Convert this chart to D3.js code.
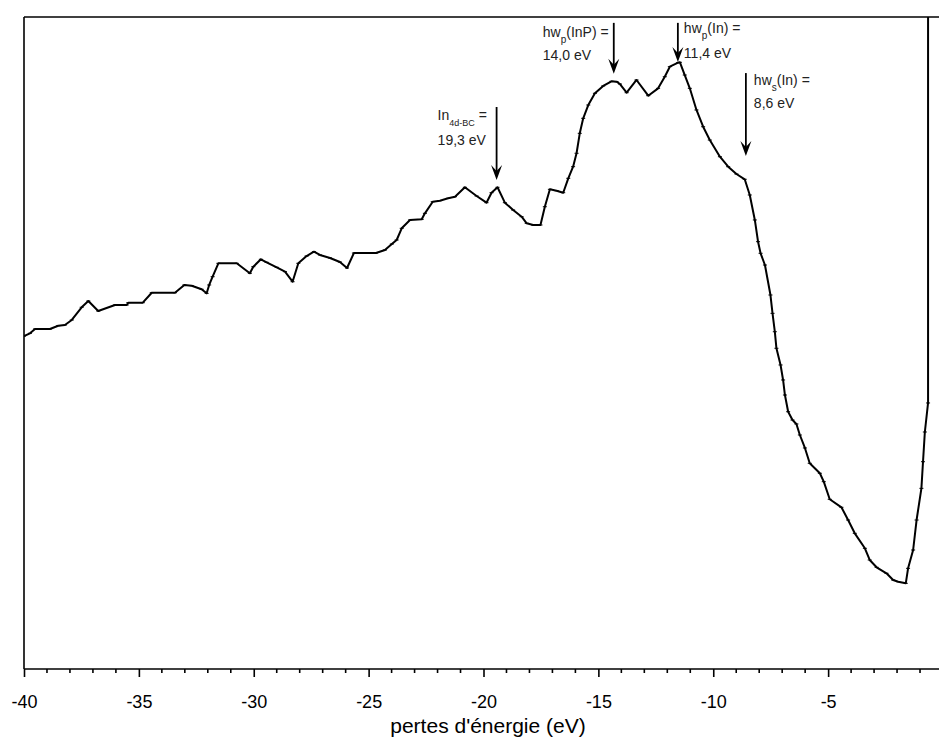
<!DOCTYPE html>
<html>
<head>
<meta charset="utf-8">
<script src="https://cdn.jsdelivr.net/npm/d3@7"></script>
<style>
  body { margin: 0; background: #fff; }
  svg { display: block; font-family: "Liberation Sans", Arial, sans-serif; }
  .axis-line { stroke: #000; stroke-width: 1.6; fill: none; }
  .curve { stroke: #000; stroke-width: 2; fill: none; stroke-linejoin: round; }
  .note { fill: #222; font-size: 14px; }
</style>
</head>
<body>
<svg id="chart" width="939" height="738"></svg>
<script>
// ---------------- DATA ----------------
// energy loss (eV) and intensity (arbitrary units)
const energy = [
  -40.00, -39.74, -39.52, -38.87, -38.51, -38.22, -37.92, -37.49, -37.20, -36.77,
  -36.04, -35.53, -35.46, -34.83, -34.44, -33.43, -33.02, -32.70, -32.27, -32.05,
  -31.94, -31.79, -31.54, -30.74, -30.17, -30.02, -29.69, -29.44, -29.00, -28.64,
  -28.31, -28.06, -27.70, -27.38, -27.12, -26.68, -26.25, -25.94, -25.64, -24.68,
  -24.29, -23.99, -23.78, -23.56, -23.20, -22.69, -22.55, -22.21, -21.90, -21.54,
  -21.24, -20.81, -20.30, -19.87, -19.65, -19.39, -19.07, -18.71, -18.34, -18.12,
  -17.84, -17.52, -17.33, -17.11, -16.82, -16.53, -16.31, -16.10, -15.95, -15.81,
  -15.66, -15.44, -15.15, -14.79, -14.43, -14.21, -14.06, -13.77, -13.34, -12.83,
  -12.40, -12.11, -11.89, -11.53, -11.45, -11.24, -11.02, -10.73, -10.44, -10.15,
  -9.71, -9.35, -8.99, -8.63, -8.41, -8.19, -8.05, -7.94, -7.75, -7.51,
  -7.42, -7.32, -7.25, -7.07, -6.96, -6.88, -6.74, -6.55, -6.38, -6.23,
  -6.01, -5.80, -5.36, -5.19, -4.93, -4.42, -4.13, -3.84, -3.40, -3.19,
  -2.89, -2.46, -2.17, -1.95, -1.62, -1.52, -1.30, -1.15, -0.94, -0.87,
  -0.79, -0.65, -0.65
];
const intensity = [
  51.07, 51.49, 52.15, 52.15, 52.65, 52.76, 53.53, 55.48, 56.44, 54.91,
  55.83, 55.83, 56.18, 56.18, 57.71, 57.71, 58.90, 58.79, 58.24, 57.62,
  58.90, 60.17, 62.22, 62.22, 60.69, 61.70, 62.84, 62.38, 61.61, 60.94,
  59.40, 62.22, 63.34, 64.00, 63.50, 63.04, 62.42, 61.50, 63.80, 63.80,
  64.26, 65.18, 65.80, 67.59, 68.87, 68.97, 69.89, 71.67, 71.83, 72.19,
  72.44, 73.88, 72.55, 71.52, 73.05, 73.88, 71.52, 70.40, 69.37, 68.36,
  68.10, 68.10, 70.90, 73.57, 73.36, 73.05, 75.26, 77.04, 79.10, 82.16,
  84.46, 86.50, 88.30, 89.42, 90.14, 90.08, 89.72, 88.39, 90.34, 87.93,
  89.06, 90.84, 92.38, 92.99, 93.05, 91.10, 89.06, 85.74, 83.17, 81.13,
  78.57, 77.04, 75.92, 75.11, 72.70, 68.87, 65.54, 63.76, 61.96, 57.36,
  54.55, 51.73, 49.19, 46.63, 44.33, 42.02, 39.46, 38.19, 37.58, 35.89,
  33.90, 31.55, 30.02, 28.73, 26.03, 24.80, 22.85, 20.81, 18.51, 16.72,
  15.60, 14.68, 13.65, 13.39, 13.14, 15.44, 18.25, 22.85, 27.71, 31.79,
  36.35, 40.80, 110.0
];

// x axis ticks
const majorTicks = [-40, -35, -30, -25, -20, -15, -10, -5];
const minorTicks = d3.range(-40, 0, 1);
const xTitle = "pertes d'énergie (eV)";

// annotations (arrows: energy, top and tip intensity)
const arrowEnergy = [-19.43, -14.33, -11.54, -8.58];
const arrowTop    = [86.2, 99.1, 99.1, 91.4];
const arrowTip    = [75.0, 91.3, 93.1, 78.7];
const noteMain    = ["In", "hw", "hw", "hw"];
const noteSub     = ["4d-BC", "p", "p", "s"];
const noteRest    = [" =", "(InP) =", "(In) =", "(In) ="];
const noteValue   = ["19,3 eV", "14,0 eV", "11,4 eV", "8,6 eV"];

// ---------------- LAYOUT ----------------
const svg = d3.select("#chart");
const plotLeft = 24, plotRight = 939, plotTop = 17, plotBottom = 669;

const x = d3.scaleLinear().domain([-40, 0]).range([plotLeft, 943]);
const y = d3.scaleLinear().domain([0, 100]).range([plotBottom, plotTop]);

// frame: left and top lines
svg.append("line").attr("class", "axis-line")
  .attr("x1", plotLeft).attr("x2", plotLeft).attr("y1", plotTop).attr("y2", plotBottom);
svg.append("line").attr("class", "axis-line")
  .attr("x1", plotLeft).attr("x2", plotRight).attr("y1", plotTop).attr("y2", plotTop);

// bottom axis: major ticks with labels (plain hyphen as minus)
const gx = svg.append("g").attr("transform", "translate(0," + plotBottom + ")");
gx.call(d3.axisBottom(x).tickValues(majorTicks).tickSize(8).tickPadding(18)
  .tickFormat(d => String(d)));
gx.select(".domain").remove();
gx.selectAll(".tick line").attr("stroke", "#000").attr("stroke-width", 1.6);
gx.selectAll(".tick text").attr("fill", "#000")
  .style("font-size", "18px").style("font-family", "'Liberation Sans', Arial, sans-serif");

// minor ticks
gx.selectAll(".minor").data(minorTicks.filter(d => d % 5 !== 0)).enter()
  .append("line").attr("class", "minor")
  .attr("x1", d => x(d)).attr("x2", d => x(d))
  .attr("y1", 0).attr("y2", 4)
  .attr("stroke", "#000").attr("stroke-width", 1.6);

gx.append("line").attr("class", "axis-line")
  .attr("x1", plotLeft).attr("x2", plotRight).attr("y1", 0).attr("y2", 0);

svg.append("text")
  .attr("x", 488).attr("y", 733)
  .attr("text-anchor", "middle")
  .style("font-size", "21px")
  .text(xTitle);

// ---------------- CURVE ----------------
svg.append("clipPath").attr("id", "plot-clip")
  .append("rect").attr("x", plotLeft).attr("y", plotTop)
  .attr("width", plotRight - plotLeft).attr("height", plotBottom - plotTop);

const points = energy.map((e, i) => [e, intensity[i]]);
const line = d3.line().x(d => x(d[0])).y(d => y(d[1]));

const plot = svg.append("g").attr("clip-path", "url(#plot-clip)");
plot.append("path").attr("class", "curve").attr("d", line(points));

// small point markers along the spectrum
plot.selectAll(".mark").data(points).enter()
  .append("line").attr("class", "mark")
  .attr("x1", d => x(d[0]) - 2).attr("x2", d => x(d[0]) + 2)
  .attr("y1", d => y(d[1])).attr("y2", d => y(d[1]))
  .attr("stroke", "#000").attr("stroke-width", 1);

// ---------------- ANNOTATIONS ----------------
const noteDx  = [-59, -71, 6, 8];
const noteDy  = [13.3, 14.3, 10.3, 12];
const noteGap = [25, 23, 24.5, 23];

arrowEnergy.forEach((e, i) => {
  const ax = x(e), y0 = y(arrowTop[i]), y1 = y(arrowTip[i]);
  svg.append("line")
    .attr("x1", ax).attr("x2", ax).attr("y1", y0).attr("y2", y1 - 6)
    .attr("stroke", "#000").attr("stroke-width", 1.8);
  svg.append("path")
    .attr("d", "M" + ax + "," + y1 +
      "L" + (ax - 5.5) + "," + (y1 - 15) +
      "L" + ax + "," + (y1 - 9) +
      "L" + (ax + 5.5) + "," + (y1 - 15) + "Z")
    .attr("fill", "#000");

  const t = svg.append("text").attr("class", "note")
    .attr("x", ax + noteDx[i]).attr("y", y0 + noteDy[i]);
  t.append("tspan").text(noteMain[i]);
  t.append("tspan").attr("dy", 6).style("font-size", i === 0 ? "9px" : "10px").text(noteSub[i]);
  t.append("tspan").attr("dy", -6).text(noteRest[i]);

  svg.append("text").attr("class", "note")
    .attr("x", ax + noteDx[i]).attr("y", y0 + noteDy[i] + noteGap[i])
    .text(noteValue[i]);
});
</script>
</body>
</html>
